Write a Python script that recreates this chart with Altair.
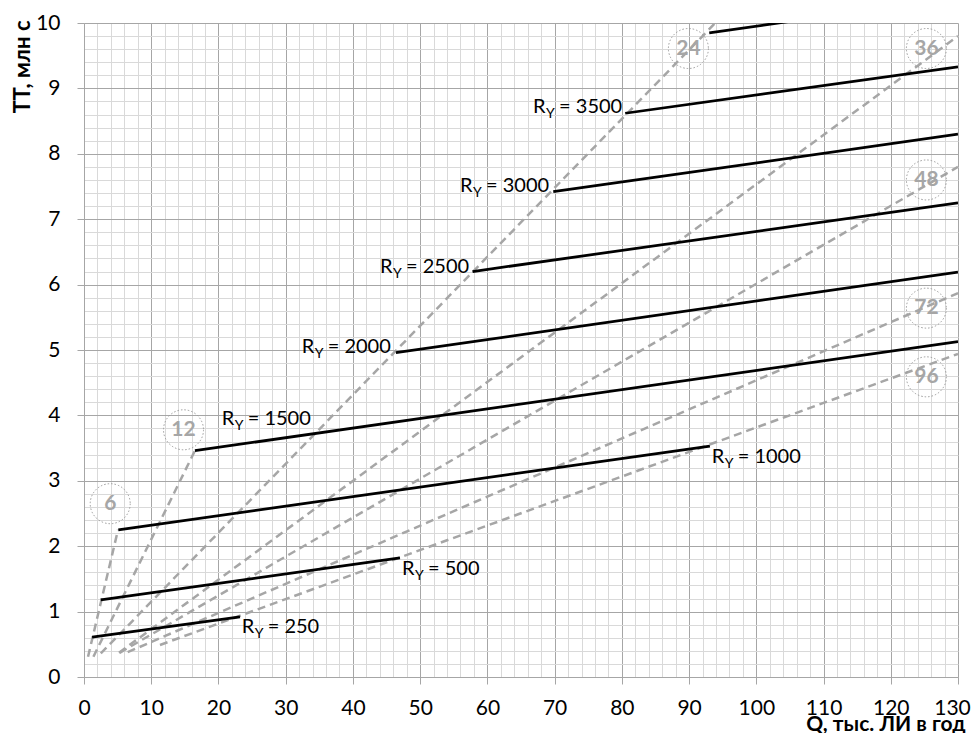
import altair as alt
import pandas as pd

# ---- data ----
# dashed gray lines (labelled 6 ... 96)
dash_N = [6, 12, 24, 36, 48, 72, 96]
dash_q0 = [0.6, 1.4, 2.5, 5.2, 5.3, 6.5, 11.3]
dash_t0 = [0.31, 0.31, 0.36, 0.37, 0.37, 0.38, 0.49]
dash_q1 = [5.06, 16.5, 93.9, 130.0, 130.0, 130.0, 130.0]
dash_t1 = [2.25, 3.46, 10.0, 9.80, 7.80, 5.87, 4.94]

# solid black lines (R_Y)
line_R = [250, 500, 1000, 1500, 2000, 2500, 3000, 3500, 4000]
line_q0 = [1.2, 2.5, 5.1, 16.5, 46.4, 57.8, 69.8, 80.5, 93.0]
line_t0 = [0.61, 1.18, 2.25, 3.46, 4.96, 6.20, 7.42, 8.62, 9.85]
line_q1 = [23.2, 47.0, 93.1, 130.0, 130.0, 130.0, 130.0, 130.0, 130.0]
line_t1 = [0.92, 1.82, 3.53, 5.13, 6.19, 7.25, 8.30, 9.33, 10.39]

# circled numbers
circ_N = [6, 12, 24, 36, 48, 72, 96]
circ_q = [3.9, 14.8, 89.9, 125.3, 125.3, 125.3, 125.3]
circ_t = [2.65, 3.78, 9.61, 9.61, 7.60, 5.64, 4.59]

# R_Y labels (left edge / baseline)
lab_R = [250, 500, 1000, 1500, 2000, 2500, 3000, 3500]
lab_q = [23.45, 47.3, 93.36, 20.48, 32.38, 44.03, 55.93, 66.8]
lab_t = [0.668, 1.56, 3.27, 3.85, 4.95, 6.18, 7.42, 8.62]

x_ticks = list(range(0, 131, 2))
y_ticks = [round(i * 0.2, 1) for i in range(51)]

MAJ = "#a6a6a6"
MINR = "#d9d9d9"
DASH = "#a6a6a6"
FONT = "Lato"

dash_df = pd.DataFrame(dict(N=dash_N, q0=dash_q0, t0=dash_t0, q1=dash_q1, t1=dash_t1))
line_df = pd.DataFrame(dict(R=line_R, q0=line_q0, t0=line_t0, q1=line_q1, t1=line_t1))
circ_df = pd.DataFrame(dict(N=circ_N, q=circ_q, t=circ_t))
lab_df = pd.DataFrame(dict(R=lab_R, q=lab_q, t=lab_t))
lab_df["txt"] = ["= " + str(r) for r in lab_R]

xmaj = "datum.value % 10 === 0"
ymaj = "abs(datum.value - round(datum.value)) < 0.001"

xaxis = alt.Axis(
    values=x_ticks, title="Q, тыс. ЛИ в год", grid=True,
    gridColor={"condition": {"test": xmaj, "value": MAJ}, "value": MINR},
    gridWidth=1, domainColor=MAJ, domainWidth=1,
    tickColor=MAJ, tickSize=7,
    tickOpacity={"condition": {"test": xmaj, "value": 1}, "value": 0},
    labelExpr=f"{xmaj} ? format(datum.value, 'd') : ''",
    labelOffset={"condition": {"test": "datum.value === 130", "value": -6}, "value": 0},
    labelFont=FONT, labelFontSize=21, labelColor="black", labelPadding=13,
    labelOverlap=False, labelFlush=False,
    titleFont=FONT, titleFontSize=21, titleFontWeight="bold", titleColor="black",
    titleX=881, titleY=53, titleAlign="right", titleBaseline="alphabetic",
)
yaxis = alt.Axis(
    values=y_ticks, title="ТТ, млн с", grid=True,
    gridColor={"condition": {"test": ymaj, "value": MAJ}, "value": MINR},
    gridWidth=1, domainColor=MAJ, domainWidth=1,
    tickColor=MAJ, tickSize=7,
    tickOpacity={"condition": {"test": ymaj, "value": 1}, "value": 0},
    labelExpr=f"{ymaj} ? format(datum.value, 'd') : ''",
    labelFont=FONT, labelFontSize=21, labelColor="black", labelPadding=17,
    labelOverlap=False, labelFlush=False,
    titleFont=FONT, titleFontSize=22, titleFontWeight="bold", titleColor="black",
    titleAngle=-90, titleX=-62, titleY=-3, titleAlign="right", titleBaseline="middle",
)

xs = alt.Scale(domain=[0, 130], nice=False, zero=False)
ys = alt.Scale(domain=[0, 10], nice=False, zero=False)


def X(f):
    return alt.X(f, type="quantitative", scale=xs, axis=xaxis)


def Y(f):
    return alt.Y(f, type="quantitative", scale=ys, axis=yaxis)


dash = alt.Chart(dash_df).mark_rule(
    color=DASH, strokeWidth=2.5, strokeDash=[8, 5], clip=True
).encode(x=X("q0"), y=Y("t0"), x2="q1", y2="t1")

solid = alt.Chart(line_df).mark_rule(
    color="black", strokeWidth=2.75, clip=True
).encode(x=X("q0"), y=Y("t0"), x2="q1", y2="t1")

circles = alt.Chart(circ_df).mark_point(
    shape="circle", size=1600, filled=False, stroke="#9a9a9a",
    strokeWidth=1, strokeDash=[1.5, 2], opacity=1
).encode(x=X("q"), y=Y("t"))

circ_txt = alt.Chart(circ_df).mark_text(
    font=FONT, fontSize=21, fontWeight="bold", color=DASH,
    align="center", baseline="middle"
).encode(x=X("q"), y=Y("t"), text="N:N")

lab_r = alt.Chart(lab_df).mark_text(
    text="R", font=FONT, fontSize=20, color="black", align="left", baseline="alphabetic"
).encode(x=X("q"), y=Y("t"))
lab_y = alt.Chart(lab_df).mark_text(
    text="Y", font=FONT, fontSize=14, color="black", align="left", baseline="alphabetic",
    dx=13, dy=5
).encode(x=X("q"), y=Y("t"))
lab_v = alt.Chart(lab_df).mark_text(
    font=FONT, fontSize=20, color="black", align="left", baseline="alphabetic", dx=26
).encode(x=X("q"), y=Y("t"), text="txt:N")

chart = alt.layer(dash, solid, circles, circ_txt, lab_r, lab_y, lab_v).properties(
    width=874, height=654,
    padding={"left": 76, "top": 15, "right": 13, "bottom": 56},
    autosize=alt.AutoSizeParams(type="none"),
).configure_view(stroke=None)

chart.save("out.html", embed_options={"renderer": "svg", "actions": False})
